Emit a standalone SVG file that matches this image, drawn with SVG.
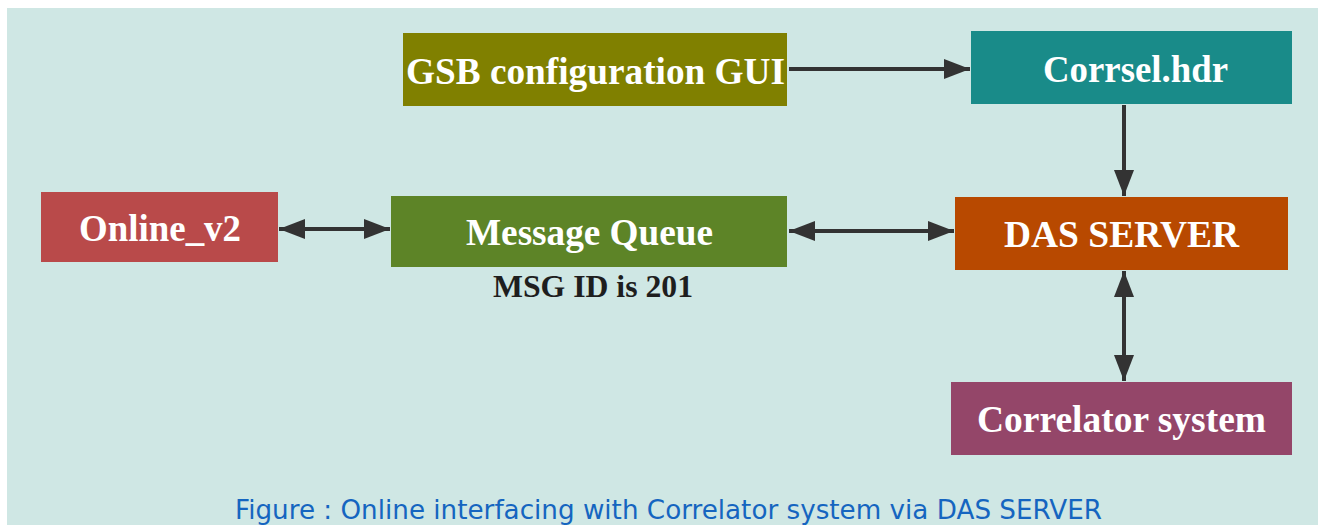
<svg xmlns="http://www.w3.org/2000/svg" width="1332" height="525" viewBox="0 0 1332 525">
<style>
.node text{font-family:"Liberation Serif",serif;font-weight:bold;fill:#fff;text-anchor:middle;dominant-baseline:central}
.conn line{stroke:#333;stroke-width:4}
</style>
<defs>
<marker id="ah" markerUnits="userSpaceOnUse" markerWidth="26" markerHeight="20" refX="26" refY="10" orient="auto-start-reverse">
<path d="M0,0 L26,10 L0,20 Z" fill="#333"/>
</marker>
</defs>
<rect x="0" y="0" width="1332" height="525" fill="#fff"/>
<rect x="7" y="8" width="1311" height="517" fill="#cfe7e4"/>
<g class="conn">
<line x1="789" y1="69" x2="970" y2="69" marker-end="url(#ah)"/>
<line x1="1124" y1="105" x2="1124" y2="196" marker-end="url(#ah)"/>
<line x1="279" y1="229" x2="390" y2="229" marker-start="url(#ah)" marker-end="url(#ah)"/>
<line x1="789" y1="231" x2="954" y2="231" marker-start="url(#ah)" marker-end="url(#ah)"/>
<line x1="1124" y1="271" x2="1124" y2="381" marker-start="url(#ah)" marker-end="url(#ah)"/>
</g>
<g id="gsb" class="node"><rect x="403" y="33" width="384" height="73" fill="#808000"/><text x="595.5" y="71" font-size="38" textLength="379" lengthAdjust="spacingAndGlyphs">GSB configuration GUI</text></g>
<g id="corrsel" class="node"><rect x="971" y="31" width="321" height="73" fill="#198b89"/><text x="1135.5" y="69" font-size="37" textLength="185" lengthAdjust="spacingAndGlyphs">Corrsel.hdr</text></g>
<g id="online" class="node"><rect x="41" y="192" width="237" height="70" fill="#b94a4a"/><text x="160" y="228" font-size="37" textLength="162" lengthAdjust="spacingAndGlyphs">Online_v2</text></g>
<g id="mq" class="node"><rect x="391" y="196" width="396" height="71" fill="#5d8427"/><text x="589.5" y="232" font-size="37" textLength="247" lengthAdjust="spacingAndGlyphs">Message Queue</text></g>
<g id="das" class="node"><rect x="955" y="197" width="333" height="73" fill="#b84900"/><text x="1121.5" y="234" font-size="37" textLength="235" lengthAdjust="spacingAndGlyphs">DAS SERVER</text></g>
<g id="corr" class="node"><rect x="951" y="382" width="341" height="73" fill="#944669"/><text x="1121.5" y="419" font-size="37" textLength="289" lengthAdjust="spacingAndGlyphs">Correlator system</text></g>
<text x="593" y="297" font-family="Liberation Serif,serif" font-weight="bold" font-size="31" fill="#1e1e1e" text-anchor="middle" textLength="200" lengthAdjust="spacingAndGlyphs">MSG ID is 201</text>
<text x="235" y="519" font-family="DejaVu Sans,sans-serif" font-size="26" fill="#1565c0" textLength="867" lengthAdjust="spacingAndGlyphs">Figure : Online interfacing with Correlator system via DAS SERVER</text>
</svg>
